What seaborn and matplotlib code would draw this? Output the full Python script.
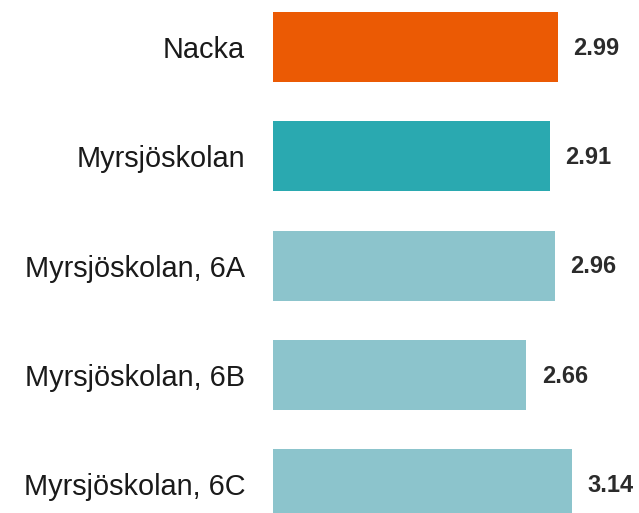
import matplotlib
matplotlib.use("Agg")
import matplotlib.pyplot as plt
import seaborn as sns
import pandas as pd

categories = ["Nacka", "Myrsjöskolan", "Myrsjöskolan, 6A", "Myrsjöskolan, 6B", "Myrsjöskolan, 6C"]
values = [2.99, 2.91, 2.96, 2.66, 3.14]
colors = ["#EB5A04", "#2AA9B0", "#8CC4CC", "#8CC4CC", "#8CC4CC"]

sns.set_theme(style="white")
plt.rcParams["font.family"] = ["Liberation Sans", "DejaVu Sans"]

df = pd.DataFrame({"cat": categories, "val": values})

fig = plt.figure(figsize=(6.39, 5.13), dpi=100)
ax = fig.add_axes([273 / 639, 0, 1 - 273 / 639, 1])
sns.barplot(data=df, y="cat", x="val", hue="cat", palette=colors, order=categories,
            width=0.64, legend=False, ax=ax, saturation=1, linewidth=0)

ax.set_xlim(0, (639 - 273) / 95.3)
ax.set_ylim((513 - 47) / 109.3, -47 / 109.3)
ax.set_xlabel("")
ax.set_ylabel("")
ax.set_xticks([])
for s in ax.spines.values():
    s.set_visible(False)
ax.tick_params(axis="y", length=0, pad=20, labelsize=20.8, labelcolor="#1a1a1a")

for i, v in enumerate(values):
    ax.annotate(f"{v:.2f}", xy=(v, i), xytext=(11, -1), textcoords="offset points",
                va="center", ha="left", fontsize=17, fontweight="bold", color="#2b2b2b")

fig.savefig("out.png", dpi=100)
